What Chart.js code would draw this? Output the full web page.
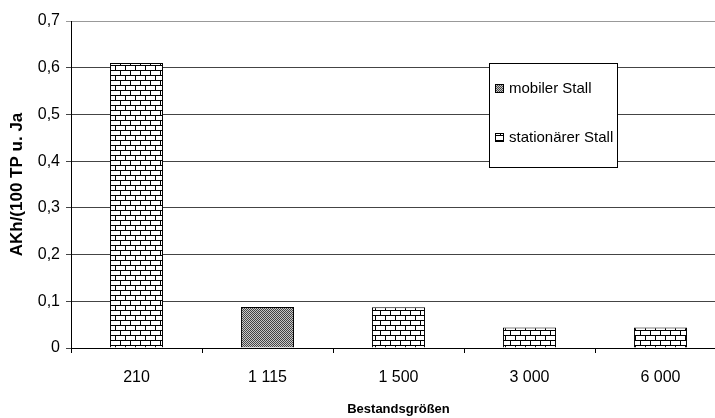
<!DOCTYPE html>
<html>
<head>
<meta charset="utf-8">
<script src="https://cdn.jsdelivr.net/npm/chart.js@4/dist/chart.umd.min.js"></script>
<style>
  html, body { margin: 0; padding: 0; background: #fff; overflow: hidden; }
  #wrap { width: 730px; height: 418px; }
</style>
</head>
<body>
<div id="wrap"><canvas id="myChart" width="730" height="418"></canvas></div>
<script>
// values
const categories = ['210', '1 115', '1 500', '3 000', '6 000'];
const mobilerStall = [null, 0.088, null, null, null];
const stationaererStall = [0.61, null, 0.087, 0.044, 0.044];
const yTickValues = [0, 0.1, 0.2, 0.3, 0.4, 0.5, 0.6, 0.7];
const yTickLabels = ['0', '0,1', '0,2', '0,3', '0,4', '0,5', '0,6', '0,7'];
const legendLabels = ['mobiler Stall', 'stationärer Stall'];

const FONT = '"Liberation Sans", Arial, sans-serif';

// brick fill (white bricks, black mortar)
function brickPattern() {
    const c = document.createElement('canvas');
    c.width = 10; c.height = 10;
    const g = c.getContext('2d');
    g.fillStyle = '#fff';
    g.fillRect(0, 0, 10, 10);
    g.fillStyle = '#000';
    g.fillRect(0, 0, 10, 1);
    g.fillRect(0, 5, 10, 1);
    g.fillRect(0, 0, 1, 5);
    g.fillRect(5, 5, 1, 5);
    return g.createPattern(c, 'repeat');
}

// fine grey dots
function dotPattern() {
    const c = document.createElement('canvas');
    c.width = 2; c.height = 2;
    const g = c.getContext('2d');
    g.fillStyle = '#c8c8c8';
    g.fillRect(0, 0, 2, 2);
    g.fillStyle = '#444';
    g.fillRect(0, 0, 1, 1);
    g.fillRect(1, 1, 1, 1);
    return g.createPattern(c, 'repeat');
}

const bricks = brickPattern();
const dots = dotPattern();

// legend box inside the plot, like the original
const legendBox = {
    id: 'legendBox',
    afterDraw(chart) {
        const c = chart.ctx;
        c.save();
        c.fillStyle = '#fff';
        c.fillRect(489.5, 63.5, 128, 104);
        c.strokeStyle = '#000';
        c.lineWidth = 1;
        c.strokeRect(489.5, 63.5, 128, 104);
        const fills = [dots, bricks];
        const ys = [89, 138];
        c.font = '15px ' + FONT;
        c.textBaseline = 'middle';
        for (let i = 0; i < legendLabels.length; i++) {
            c.fillStyle = fills[i];
            c.fillRect(495.5, ys[i] - 4.5, 8, 8);
            c.strokeStyle = '#000';
            c.strokeRect(495.5, ys[i] - 4.5, 8, 8);
            c.fillStyle = '#000';
            c.fillText(legendLabels[i], 509, ys[i]);
        }
        c.restore();
    }
};

const ctx = document.getElementById('myChart').getContext('2d');
const myChart = new Chart(ctx, {
    type: 'bar',
    data: {
        labels: categories,
        datasets: [{
            label: legendLabels[0],
            data: mobilerStall,
            backgroundColor: dots,
            borderColor: '#000',
            borderWidth: 1,
            grouped: false,
            barPercentage: 0.405,
            categoryPercentage: 1
        }, {
            label: legendLabels[1],
            data: stationaererStall,
            backgroundColor: bricks,
            borderColor: '#000',
            borderWidth: 1,
            grouped: false,
            barPercentage: 0.405,
            categoryPercentage: 1
        }]
    },
    options: {
        responsive: false,
        animation: false,
        layout: { padding: { top: 21, right: 4, left: 0, bottom: 0 } },
        plugins: {
            legend: { display: false },
            tooltip: { enabled: false }
        },
        scales: {
            x: {
                grid: { drawOnChartArea: false, tickLength: 5, color: '#000', offset: true },
                border: { color: '#000' },
                ticks: { font: { family: FONT, size: 16 }, color: '#000', padding: 15 },
                title: {
                    display: true,
                    text: 'Bestandsgrößen',
                    color: '#000',
                    font: { family: FONT, size: 13, weight: 'bold' },
                    padding: { top: 0, bottom: 1 }
                },
                afterFit(s) { s.height = 70; }
            },
            y: {
                min: 0,
                max: 0.7,
                afterBuildTicks(s) { s.ticks = yTickValues.map(v => ({ value: v })); },
                ticks: {
                    callback: (v, i) => yTickLabels[i],
                    font: { family: FONT, size: 16 },
                    color: '#000',
                    padding: 6
                },
                grid: {
                    color: (c) => c.tick && c.tick.value === 0.7 ? '#999' : '#444',
                    tickLength: 5
                },
                border: { color: '#000' },
                title: {
                    display: true,
                    text: 'AKh/(100 TP u. Ja',
                    color: '#000',
                    font: { family: FONT, size: 17, weight: 'bold' },
                    padding: { top: 7, bottom: 0 }
                },
                afterFit(s) { s.width = 71; }
            }
        }
    },
    plugins: [legendBox]
});
</script>
</body>
</html>
